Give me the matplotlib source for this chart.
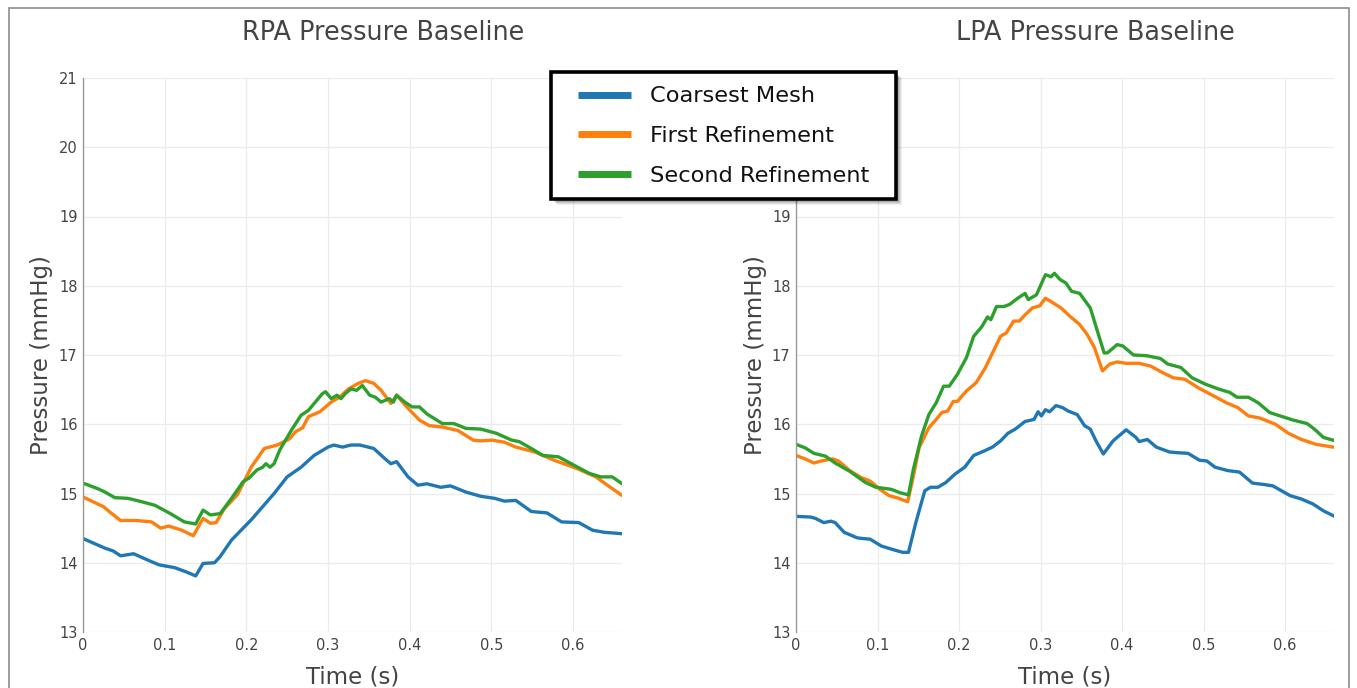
import numpy as np
import matplotlib
matplotlib.use("Agg")
from matplotlib import pyplot as plt
from matplotlib.patches import Rectangle

# RPA (left) - time in s, pressure in mmHg
rpa_t_coarse = [0.0, 0.027, 0.037, 0.046, 0.062, 0.079, 0.093, 0.112, 0.126, 0.138, 0.147, 0.161,
                0.168, 0.182, 0.206, 0.220, 0.234, 0.250, 0.267, 0.283, 0.300, 0.307, 0.318, 0.328,
                0.339, 0.356, 0.370, 0.377, 0.384, 0.398, 0.410, 0.421, 0.438, 0.450, 0.469, 0.487,
                0.504, 0.516, 0.530, 0.549, 0.568, 0.586, 0.607, 0.624, 0.638, 0.659]
rpa_p_coarse = [14.35, 14.21, 14.17, 14.10, 14.13, 14.04, 13.97, 13.93, 13.87, 13.81, 13.99, 14.00,
                14.09, 14.33, 14.62, 14.81, 15.00, 15.24, 15.38, 15.55, 15.67, 15.70, 15.67, 15.70,
                15.70, 15.65, 15.50, 15.43, 15.46, 15.24, 15.12, 15.14, 15.09, 15.11, 15.02, 14.96,
                14.93, 14.89, 14.90, 14.74, 14.72, 14.59, 14.58, 14.47, 14.44, 14.42]

rpa_t_first = [0.0, 0.025, 0.032, 0.046, 0.065, 0.084, 0.095, 0.105, 0.121, 0.135, 0.147, 0.156,
               0.163, 0.173, 0.189, 0.206, 0.222, 0.238, 0.253, 0.260, 0.269, 0.276, 0.290, 0.304,
               0.314, 0.325, 0.337, 0.346, 0.356, 0.365, 0.377, 0.384, 0.398, 0.412, 0.424, 0.440,
               0.459, 0.478, 0.487, 0.501, 0.516, 0.530, 0.553, 0.577, 0.605, 0.628, 0.642, 0.659]
rpa_p_first = [14.95, 14.81, 14.74, 14.61, 14.61, 14.59, 14.50, 14.53, 14.47, 14.39, 14.64, 14.57,
               14.58, 14.78, 14.98, 15.38, 15.65, 15.70, 15.79, 15.89, 15.95, 16.11, 16.18, 16.32,
               16.39, 16.51, 16.59, 16.63, 16.59, 16.49, 16.30, 16.42, 16.23, 16.06, 15.98, 15.96,
               15.91, 15.77, 15.76, 15.77, 15.74, 15.67, 15.60, 15.48, 15.36, 15.24, 15.12, 14.98]

rpa_t_second = [0.0, 0.018, 0.027, 0.039, 0.055, 0.069, 0.088, 0.107, 0.124, 0.138, 0.147, 0.156,
                0.168, 0.180, 0.189, 0.196, 0.203, 0.213, 0.220, 0.224, 0.229, 0.234, 0.241, 0.248,
                0.255, 0.267, 0.276, 0.283, 0.293, 0.297, 0.304, 0.311, 0.316, 0.321, 0.328, 0.335,
                0.342, 0.351, 0.358, 0.365, 0.375, 0.380, 0.384, 0.394, 0.403, 0.412, 0.421, 0.440,
                0.454, 0.469, 0.487, 0.506, 0.525, 0.534, 0.549, 0.563, 0.582, 0.601, 0.620, 0.634,
                0.648, 0.659]
rpa_p_second = [15.15, 15.07, 15.02, 14.94, 14.93, 14.89, 14.83, 14.71, 14.59, 14.56, 14.76, 14.69,
                14.71, 14.90, 15.05, 15.17, 15.22, 15.34, 15.38, 15.43, 15.38, 15.43, 15.63, 15.77,
                15.91, 16.13, 16.20, 16.30, 16.44, 16.47, 16.37, 16.42, 16.37, 16.44, 16.51, 16.49,
                16.56, 16.42, 16.39, 16.32, 16.37, 16.32, 16.42, 16.32, 16.25, 16.25, 16.15, 16.01,
                16.01, 15.94, 15.93, 15.87, 15.77, 15.75, 15.65, 15.55, 15.53, 15.41, 15.29, 15.24,
                15.24, 15.15]

# LPA (right)
lpa_t_coarse = [0.0, 0.018, 0.024, 0.034, 0.043, 0.048, 0.059, 0.075, 0.082, 0.091, 0.105, 0.119,
                0.131, 0.138, 0.147, 0.158, 0.165, 0.174, 0.184, 0.195, 0.207, 0.218, 0.232, 0.241,
                0.251, 0.260, 0.269, 0.281, 0.292, 0.297, 0.301, 0.306, 0.311, 0.319, 0.327, 0.334,
                0.345, 0.354, 0.361, 0.368, 0.377, 0.389, 0.405, 0.417, 0.421, 0.431, 0.442, 0.458,
                0.467, 0.481, 0.495, 0.504, 0.514, 0.530, 0.544, 0.560, 0.574, 0.585, 0.606, 0.620,
                0.634, 0.647, 0.659]
lpa_p_coarse = [14.67, 14.66, 14.64, 14.58, 14.60, 14.58, 14.44, 14.36, 14.35, 14.34, 14.24, 14.19,
                14.15, 14.15, 14.58, 15.04, 15.09, 15.09, 15.16, 15.28, 15.38, 15.55, 15.62, 15.67,
                15.76, 15.87, 15.93, 16.04, 16.07, 16.18, 16.12, 16.21, 16.18, 16.27, 16.24, 16.19,
                16.14, 15.98, 15.93, 15.76, 15.57, 15.76, 15.92, 15.81, 15.75, 15.78, 15.67, 15.60,
                15.59, 15.58, 15.48, 15.47, 15.38, 15.33, 15.31, 15.15, 15.13, 15.11, 14.97, 14.92,
                14.85, 14.75, 14.68]

lpa_t_first = [0.0, 0.011, 0.022, 0.031, 0.045, 0.052, 0.066, 0.080, 0.091, 0.103, 0.114, 0.126,
               0.137, 0.144, 0.151, 0.163, 0.172, 0.179, 0.186, 0.193, 0.198, 0.209, 0.221, 0.232,
               0.239, 0.251, 0.258, 0.267, 0.274, 0.281, 0.290, 0.299, 0.306, 0.313, 0.325, 0.336,
               0.348, 0.357, 0.366, 0.376, 0.385, 0.394, 0.405, 0.421, 0.435, 0.449, 0.463, 0.477,
               0.493, 0.509, 0.528, 0.542, 0.555, 0.569, 0.588, 0.604, 0.620, 0.638, 0.659]
lpa_p_first = [15.55, 15.50, 15.44, 15.47, 15.50, 15.47, 15.33, 15.23, 15.18, 15.06, 14.97, 14.93,
               14.88, 15.25, 15.66, 15.95, 16.07, 16.17, 16.19, 16.33, 16.33, 16.48, 16.60, 16.81,
               16.98, 17.27, 17.32, 17.49, 17.49, 17.58, 17.68, 17.71, 17.82, 17.77, 17.68, 17.56,
               17.44, 17.30, 17.11, 16.77, 16.87, 16.90, 16.88, 16.88, 16.84, 16.75, 16.67, 16.65,
               16.53, 16.43, 16.31, 16.24, 16.12, 16.09, 16.00, 15.87, 15.78, 15.71, 15.67]

lpa_t_second = [0.0, 0.011, 0.022, 0.036, 0.048, 0.066, 0.085, 0.098, 0.117, 0.128, 0.138, 0.144,
                0.154, 0.163, 0.172, 0.181, 0.188, 0.198, 0.209, 0.218, 0.228, 0.235, 0.239, 0.246,
                0.255, 0.262, 0.272, 0.281, 0.285, 0.295, 0.306, 0.313, 0.317, 0.324, 0.331, 0.338,
                0.348, 0.361, 0.378, 0.382, 0.394, 0.401, 0.414, 0.430, 0.447, 0.456, 0.472, 0.486,
                0.502, 0.518, 0.532, 0.541, 0.555, 0.567, 0.581, 0.594, 0.610, 0.627, 0.636, 0.647,
                0.659]
lpa_p_second = [15.71, 15.66, 15.58, 15.54, 15.44, 15.32, 15.16, 15.09, 15.06, 15.01, 14.98, 15.35,
                15.83, 16.14, 16.31, 16.55, 16.55, 16.72, 16.96, 17.27, 17.41, 17.55, 17.51, 17.70,
                17.70, 17.73, 17.82, 17.89, 17.80, 17.87, 18.16, 18.13, 18.18, 18.09, 18.04, 17.92,
                17.89, 17.68, 17.03, 17.03, 17.15, 17.13, 17.00, 16.99, 16.95, 16.87, 16.82, 16.67,
                16.58, 16.51, 16.46, 16.39, 16.39, 16.31, 16.17, 16.12, 16.06, 16.01, 15.93, 15.81,
                15.77]

names = ["Coarsest Mesh", "First Refinement", "Second Refinement"]
colors = ["#1f77b4", "#ff7f0e", "#2ca02c"]
yticks = list(range(13, 22))

plt.rcParams['font.family'] = ['DejaVu Sans']

W, H = 1357, 688
fig = plt.figure(figsize=(W / 100, H / 100), dpi=100)


def px(x, y):
    # pixel position (from top-left) -> figure fraction
    return x / W, 1 - y / H


# outer frame
fig.patches.append(Rectangle(px(9, 700), (1349 - 9) / W, (700 - 8) / H,
                             transform=fig.transFigure, fill=False,
                             edgecolor="#8c8c8c", linewidth=1.2))

bottom = 1 - 632 / H
top = 1 - 78 / H
ax1 = fig.add_axes([83 / W, bottom, (622 - 83) / W, top - bottom])
ax2 = fig.add_axes([796 / W, bottom, (1334 - 796) / W, top - bottom])

panels = [
    (ax1, [(rpa_t_coarse, rpa_p_coarse), (rpa_t_first, rpa_p_first), (rpa_t_second, rpa_p_second)]),
    (ax2, [(lpa_t_coarse, lpa_p_coarse), (lpa_t_first, lpa_p_first), (lpa_t_second, lpa_p_second)]),
]

lines = []
for ax, series in panels:
    for (t, p), c, n in zip(series, colors, names):
        ln, = ax.plot(t, p, color=c, linewidth=2.4, label=n, solid_joinstyle="round")
        if ax is ax1:
            lines.append(ln)
    ax.set_xlim(0, 0.66)
    ax.set_ylim(13, 21)
    ax.set_xticks([0, 0.1, 0.2, 0.3, 0.4, 0.5, 0.6])
    ax.set_xticklabels(["0", "0.1", "0.2", "0.3", "0.4", "0.5", "0.6"])
    ax.set_yticks(yticks)
    ax.grid(True, color="#ebebeb", linewidth=0.9)
    ax.set_axisbelow(True)
    for s in ["top", "right", "bottom"]:
        ax.spines[s].set_visible(False)
    ax.spines["left"].set_color("#999999")
    ax.spines["left"].set_linewidth(1.0)
    ax.tick_params(length=0, labelsize=10.5, labelcolor="#444444", pad=4)
    ax.set_xlabel("Time (s)", fontsize=16.5, color="#444444", va="center")
    ax.set_ylabel("Pressure (mmHg)", fontsize=16.5, color="#444444", va="center")
    ax.xaxis.set_label_coords(0.5, -45 / 554)
    ax.yaxis.set_label_coords(-41 / 539, 0.5)

# the legend sits over the top two labels of the right panel
ax2.set_yticklabels([str(v) if v < 20 else "" for v in yticks])

fig.text(*px(383, 33), "RPA Pressure Baseline", ha="center", va="center",
         fontsize=18.4, color="#444444")
fig.text(*px(1095, 33), "LPA Pressure Baseline", ha="center", va="center",
         fontsize=18.4, color="#444444")

# legend box with a soft drop shadow, drawn as figure patches
bx0, by0, bx1, by1 = 551, 72, 896, 199
for off, alpha in [(6, 0.06), (5, 0.08), (4, 0.10), (3, 0.12)]:
    fig.patches.append(Rectangle(px(bx0 + off, by1 + off), (bx1 - bx0) / W, (by1 - by0) / H,
                                 transform=fig.transFigure, facecolor="black",
                                 edgecolor="none", alpha=alpha, zorder=5))
fig.patches.append(Rectangle(px(bx0, by1), (bx1 - bx0) / W, (by1 - by0) / H,
                             transform=fig.transFigure, facecolor="white",
                             edgecolor="black", linewidth=2.6, zorder=6))

leg = fig.legend(handles=lines, loc="upper left", bbox_to_anchor=px(578, 86.5),
                 borderaxespad=0, borderpad=0, fontsize=16.2, frameon=False,
                 handlelength=2.35, handletextpad=0.85, labelspacing=0.88)
leg.set_zorder(7)
for h in leg.legend_handles:
    h.set_linewidth(5)
    h.set_solid_capstyle("butt")
for txt in leg.get_texts():
    txt.set_color("#111111")

fig.savefig("out.png", dpi=100)
